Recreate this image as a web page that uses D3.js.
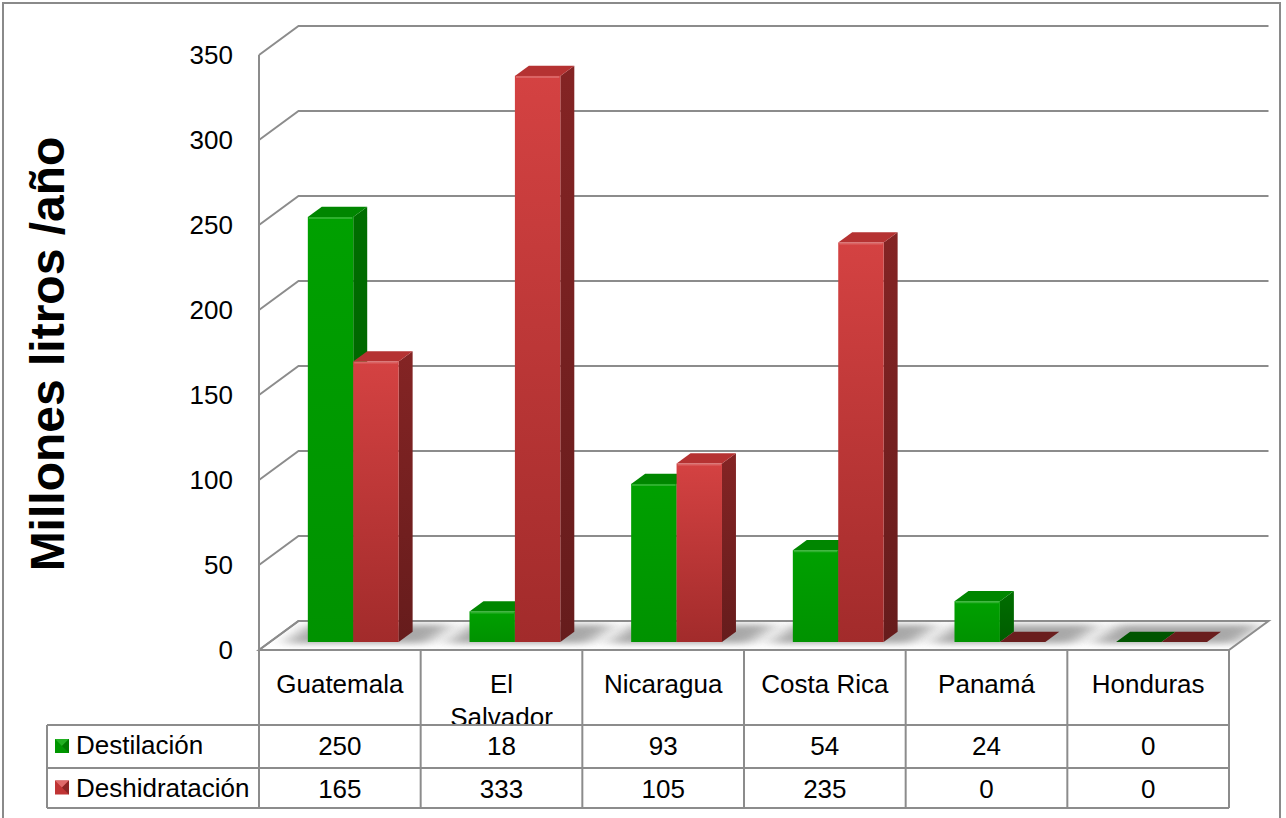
<!DOCTYPE html>
<html>
<head>
<meta charset="utf-8">
<script src="https://cdn.jsdelivr.net/npm/d3@7"></script>
<style>
  html, body { margin: 0; padding: 0; background: #fff; }
  svg { display: block; font-family: "Liberation Sans", Arial, sans-serif; }
</style>
</head>
<body>
<svg id="chart" width="1286" height="818"></svg>
<script>
// Ethanol capacity by country (millions of litres per year)
const categories = ["Guatemala", "El Salvador", "Nicaragua", "Costa Rica", "Panamá", "Honduras"];
const seriesNames = ["Destilación", "Deshidratación"];
const destilacion = [250, 18, 93, 54, 24, 0];
const deshidratacion = [165, 333, 105, 235, 0, 0];
const yTicks = [0, 50, 100, 150, 200, 250, 300, 350];
const yTitle = "Millones litros /año";

const seriesValues = [destilacion, deshidratacion];

const svg = d3.select("#chart");

// plot geometry (front plane of the 3D box + depth offset)
const plotLeft = 259, plotRight = 1229;
const yFront0 = 650, yFrontTop = 55;
const depthX = 39.5, depthY = 29;
const barZ0 = 0.276, barZ1 = 0.63;
const groupShift = 2.5;
const fontSize = 26;

const x = d3.scaleBand().domain(categories).range([plotLeft, plotRight]).padding(0);
const xs = d3.scaleBand().domain(seriesNames).range([0, x.bandwidth()])
  .paddingInner(0).paddingOuter(0.78);
const y = d3.scaleLinear().domain([0, 350]).range([yFront0, yFrontTop]);

// project (px, value, depth fraction) into screen coordinates
const P = (px, v, z) => [px + z * depthX, y(v) - z * depthY];
const poly = pts => "M" + pts.map(p => p.join(",")).join("L") + "Z";

const defs = svg.append("defs");

// colours per series
const palette = [
  { front: ["#00a000", "#009200"], side: ["#006e00", "#005c00"], top: "#008600", flat: "#005500",
    key: ["#22b022", "#007a00", "#009600"] },
  { front: ["#d44242", "#a22b2b"], side: ["#842424", "#661c1c"], top: "#b53232", flat: "#6a1e1e",
    key: ["#e06a6a", "#8e2525", "#c03434"] }
];
palette.forEach((c, i) => {
  const gf = defs.append("linearGradient").attr("id", "front" + i)
    .attr("x1", 0).attr("y1", 0).attr("x2", 0).attr("y2", 1);
  gf.append("stop").attr("offset", "0%").attr("stop-color", c.front[0]);
  gf.append("stop").attr("offset", "100%").attr("stop-color", c.front[1]);
  const gs = defs.append("linearGradient").attr("id", "side" + i)
    .attr("x1", 0).attr("y1", 0).attr("x2", 0).attr("y2", 1);
  gs.append("stop").attr("offset", "0%").attr("stop-color", c.side[0]);
  gs.append("stop").attr("offset", "100%").attr("stop-color", c.side[1]);
});
defs.append("filter").attr("id", "soft").attr("x", "-50%").attr("y", "-200%")
  .attr("width", "200%").attr("height", "500%")
  .append("feGaussianBlur").attr("stdDeviation", "9 3");
defs.append("clipPath").attr("id", "floorClip")
  .append("path")
  .attr("d", poly([P(plotLeft, 0, 0), P(plotRight, 0, 0), P(plotRight, 0, 1), P(plotLeft, 0, 1)]));

// outer frame
svg.append("rect").attr("x", 3).attr("y", 3).attr("width", 1277).attr("height", 830)
  .attr("fill", "#fff").attr("stroke", "#8a8a8a").attr("stroke-width", 2);

const gridColor = "#8c8c8c";
const grid = svg.append("g").attr("fill", "none").attr("stroke", gridColor).attr("stroke-width", 2);

// floor
grid.append("path")
  .attr("d", poly([P(plotLeft, 0, 0), P(plotRight, 0, 0), P(plotRight, 0, 1), P(plotLeft, 0, 1)]))
  .attr("fill", "#fff");

// side-wall and back-wall gridlines
yTicks.forEach(t => {
  grid.append("path").attr("d",
    "M" + P(plotLeft, t, 0).join(",") + "L" + P(plotLeft, t, 1).join(",") + "L" + P(plotRight, t, 1).join(","));
});
// vertical axis line on the front edge of the side wall
grid.append("line").attr("x1", plotLeft).attr("x2", plotLeft)
  .attr("y1", y(0)).attr("y2", y(350));

// tick labels
svg.append("g").selectAll("text").data(yTicks).join("text")
  .attr("x", 233).attr("y", d => y(d) + 2)
  .attr("text-anchor", "end").attr("dominant-baseline", "middle")
  .attr("font-size", fontSize).attr("fill", "#000")
  .text(d => d);

// axis title
svg.append("text")
  .attr("transform", "translate(64,354) rotate(-90)")
  .attr("text-anchor", "middle")
  .attr("font-size", 48).attr("font-weight", "bold").attr("fill", "#000")
  .text(yTitle);

// soft floor shadows beneath each group
const shadows = svg.append("g").attr("clip-path", "url(#floorClip)");
categories.forEach(cat => {
  const gx0 = x(cat) + xs(seriesNames[0]) + groupShift - 22;
  const gx1 = x(cat) + xs(seriesNames[1]) + xs.bandwidth() + groupShift + 30;
  shadows.append("path")
    .attr("d", poly([P(gx0, 0, barZ0 - 0.05), P(gx1, 0, barZ0 - 0.05), P(gx1, 0, barZ1 + 0.25), P(gx0, 0, barZ1 + 0.25)]))
    .attr("fill", "#9a9a9a").attr("opacity", 0.85).attr("filter", "url(#soft)");
});

// bars, drawn left to right so each side face is overlapped by its neighbour
const bars = svg.append("g");
categories.forEach((cat, ci) => {
  seriesNames.forEach((s, si) => {
    const v = seriesValues[si][ci];
    const c = palette[si];
    const bx0 = x(cat) + xs(s) + groupShift, bx1 = bx0 + xs.bandwidth();
    const g = bars.append("g");
    if (v === 0) {
      g.append("path")
        .attr("d", poly([P(bx0, 0, barZ0), P(bx1, 0, barZ0), P(bx1, 0, barZ1), P(bx0, 0, barZ1)]))
        .attr("fill", c.flat);
      return;
    }
    // side face
    g.append("path")
      .attr("d", poly([P(bx1, 0, barZ0), P(bx1, v, barZ0), P(bx1, v, barZ1), P(bx1, 0, barZ1)]))
      .attr("fill", `url(#side${si})`);
    // top face
    g.append("path")
      .attr("d", poly([P(bx0, v, barZ0), P(bx1, v, barZ0), P(bx1, v, barZ1), P(bx0, v, barZ1)]))
      .attr("fill", c.top);
    // front face
    const [fx0, fy0] = P(bx0, v, barZ0);
    const [fx1, fy1] = P(bx1, 0, barZ0);
    g.append("rect").attr("x", fx0).attr("y", fy0)
      .attr("width", fx1 - fx0).attr("height", fy1 - fy0)
      .attr("fill", `url(#front${si})`);
    // light rim along the top edge of the front face
    g.append("line").attr("x1", fx0 + 1).attr("x2", fx1 - 1)
      .attr("y1", fy0 + 1).attr("y2", fy0 + 1)
      .attr("stroke", "#ffffff").attr("stroke-opacity", 0.18).attr("stroke-width", 2);
  });
});

// data table under the plot
const rowTop = 650, headerBottom = 725, row1Bottom = 768, row2Bottom = 808;
const legendLeft = 47;
const table = svg.append("g").attr("stroke", gridColor).attr("stroke-width", 2).attr("fill", "none");
table.append("line").attr("x1", plotLeft).attr("x2", plotRight).attr("y1", rowTop).attr("y2", rowTop);
[headerBottom, row1Bottom, row2Bottom].forEach(yy =>
  table.append("line").attr("x1", legendLeft).attr("x2", plotRight).attr("y1", yy).attr("y2", yy));
table.append("line").attr("x1", legendLeft).attr("x2", legendLeft).attr("y1", headerBottom).attr("y2", row2Bottom);
categories.concat(["_end"]).forEach((cat, i) => {
  const xx = i < categories.length ? x(cat) : plotRight;
  table.append("line").attr("x1", xx).attr("x2", xx).attr("y1", rowTop).attr("y2", row2Bottom);
});

// category header cells (text wraps when it gets too wide for the cell)
const headerClip = defs.append("clipPath").attr("id", "headerClip");
headerClip.append("rect").attr("x", plotLeft).attr("y", rowTop).attr("width", plotRight - plotLeft).attr("height", headerBottom - rowTop - 1);
const header = svg.append("g").attr("clip-path", "url(#headerClip)")
  .attr("font-size", fontSize).attr("fill", "#000").attr("text-anchor", "middle");
categories.forEach(cat => {
  const cx = x(cat) + x.bandwidth() / 2;
  const t = header.append("text").attr("x", cx).attr("y", 693);
  t.text(cat);
  const maxW = x.bandwidth() - 30;
  if (t.node().getComputedTextLength() > maxW && cat.includes(" ")) {
    t.text(null);
    cat.split(" ").forEach((w, i) => {
      t.append("tspan").attr("x", cx).attr("dy", i === 0 ? 0 : 33).text(w);
    });
  }
});

// value rows with legend keys
const rowBaselines = [754, 797];
const rowMid = [(headerBottom + row1Bottom) / 2, (row1Bottom + row2Bottom) / 2];
const body = svg.append("g").attr("font-size", fontSize).attr("fill", "#000");
seriesNames.forEach((s, si) => {
  const c = palette[si];
  const ky = rowMid[si] - 7.5, kx = 55, ks = 14;
  // bevelled key marker
  body.append("rect").attr("x", kx).attr("y", ky).attr("width", ks).attr("height", ks).attr("fill", c.key[2]);
  body.append("path").attr("d", poly([[kx, ky], [kx + ks, ky], [kx + ks / 2, ky + ks / 2]])).attr("fill", c.key[0]);
  body.append("path").attr("d", poly([[kx + ks, ky], [kx + ks, ky + ks], [kx + ks / 2, ky + ks / 2]])).attr("fill", c.key[1]);
  body.append("text").attr("x", 76).attr("y", rowBaselines[si]).text(s);
  categories.forEach((cat, ci) => {
    body.append("text").attr("x", x(cat) + x.bandwidth() / 2).attr("y", rowBaselines[si] + 1)
      .attr("text-anchor", "middle").text(seriesValues[si][ci]);
  });
});
</script>
</body>
</html>
